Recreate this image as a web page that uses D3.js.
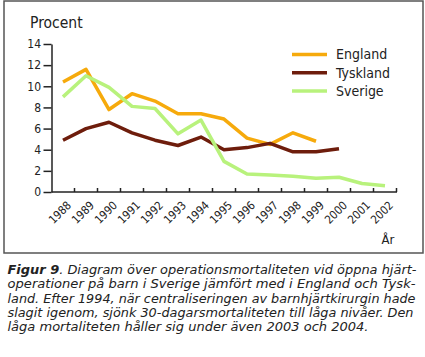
<!DOCTYPE html>
<html><head><meta charset="utf-8">
<script src="https://cdn.jsdelivr.net/npm/d3@7"></script>
<style>
body{margin:0;background:#fff;}
svg{display:block;}
text{font-family:"Liberation Sans Narrow","DejaVu Sans Condensed","Roboto",sans-serif;fill:#222;}
</style></head>
<body>
<svg id="c" width="425" height="357"></svg>
<script>
const years = ["1988","1989","1990","1991","1992","1993","1994","1995","1996","1997","1998","1999","2000","2001","2002"];
const england  = [10.4,11.6,7.8,9.3,8.6,7.4,7.4,6.9,5.1,4.5,5.6,4.8,null,null,null];
const tyskland = [4.9,6.0,6.6,5.6,4.9,4.4,5.2,4.0,4.2,4.6,3.8,3.8,4.1,null,null];
const sverige  = [9.0,11.0,9.9,8.1,7.9,5.5,6.8,2.9,1.7,1.6,1.5,1.3,1.4,0.8,0.6];
const seriesNames = ["England","Tyskland","Sverige"];
const yTicks = [0,2,4,6,8,10,12,14];
const yTitle = "Procent";
const xTitle = "År";
const captionLines = [
  [["Figur 9",true],[". Diagram över operationsmortaliteten vid öppna hjärt-",false]],
  [["operationer på barn i Sverige jämfört med i England och Tysk-",false]],
  [["land. Efter 1994, när centraliseringen av barnhjärtkirurgin hade",false]],
  [["slagit igenom, sjönk 30-dagarsmortaliteten till låga nivåer. Den",false]],
  [["låga mortaliteten håller sig under även 2003 och 2004.",false]]
];

const colors = ["#F6AA0C","#6E1D0C","#B8F27C"];
const svg = d3.select("#c");

// frame
svg.append("rect").attr("x",4).attr("y",1).attr("width",419).attr("height",252)
  .attr("fill","none").attr("stroke","#555").attr("stroke-width",1.5);

const x = d3.scaleBand().domain(years).range([51.5,396.5]);
const y = d3.scaleLinear().domain([0,14]).range([192,44]);

// y axis
const gy = svg.append("g").attr("transform","translate(51.5,0)")
  .call(d3.axisLeft(y).tickValues(yTicks).tickSize(8).tickPadding(2.5).tickSizeOuter(0));
gy.select(".domain").attr("stroke","#222").attr("stroke-width",1.5);
gy.selectAll(".tick line").attr("stroke","#222").attr("stroke-width",1.5);
gy.selectAll(".tick text").attr("font-size",12).attr("font-family",null).attr("fill","#222");

// x axis line + inward ticks
const gx = svg.append("g").attr("transform","translate(0,192)");
gx.append("line").attr("x1",51.5).attr("x2",397).attr("y1",0).attr("y2",0)
  .attr("stroke","#222").attr("stroke-width",1.5);
gx.selectAll("line.t").data(years).enter().append("line").attr("class","t")
  .attr("x1",d=>x(d)+x.bandwidth()).attr("x2",d=>x(d)+x.bandwidth())
  .attr("y1",0).attr("y2",-4).attr("stroke","#222").attr("stroke-width",1.5);
gx.selectAll("text").data(years).enter().append("text")
  .attr("transform",d=>`translate(${x(d)+x.bandwidth()/2+9},14) rotate(-45)`)
  .attr("text-anchor","end").attr("font-size",11.5).text(d=>d);

svg.append("text").attr("x",30).attr("y",28).attr("font-size",15.5).text(yTitle);
svg.append("text").attr("x",381.5).attr("y",244).attr("font-size",13).text(xTitle);

// lines
const data = [england,tyskland,sverige];
const line = d3.line().defined(d=>d.v!=null)
  .x(d=>x(d.yr)+x.bandwidth()/2).y(d=>y(d.v));
data.forEach((s,i)=>{
  svg.append("path").datum(s.map((v,j)=>({yr:years[j],v})))
    .attr("d",line).attr("fill","none").attr("stroke",colors[i])
    .attr("stroke-width",3.5).attr("stroke-linejoin","round");
});

// legend
seriesNames.forEach((n,i)=>{
  const yy = 54.5 + i*18.2;
  svg.append("line").attr("x1",292).attr("x2",327).attr("y1",yy).attr("y2",yy)
    .attr("stroke",colors[i]).attr("stroke-width",3.5);
  svg.append("text").attr("x",336).attr("y",yy+4.8).attr("font-size",14).text(n);
});

// caption
const lens = [409,408,408,406,361];
captionLines.forEach((ln,i)=>{
  const t = svg.append("text").attr("x",7.5).attr("y",274+i*14.35)
    .attr("font-size",12.2).attr("font-style","italic")
    .attr("textLength",lens[i]).attr("lengthAdjust","spacingAndGlyphs");
  ln.forEach(([s,b])=>{
    t.append("tspan").attr("font-weight",b?"bold":"normal").text(s);
  });
});
</script>
</body></html>
